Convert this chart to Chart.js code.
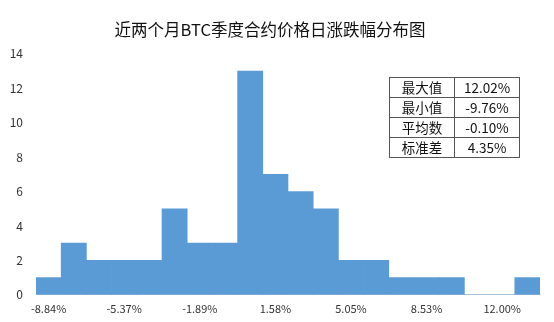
<!DOCTYPE html>
<html>
<head>
<meta charset="utf-8">
<script src="https://cdn.jsdelivr.net/npm/chart.js@4/dist/chart.umd.min.js"></script>
<style>
  body { margin: 0; background: #fff; }
  #wrap { position: relative; width: 554px; height: 322px; }
  #stats {
    position: absolute; left: 389px; top: 77px;
    border-collapse: collapse;
    font-family: "Noto Sans CJK SC", sans-serif; font-size: 13.5px; color: #111;
  }
  #stats td {
    border: 1px solid #555; height: 19px; padding: 0; text-align: center; line-height: 19px;
  }
  #stats td.k { width: 64px; }
  #stats td.v { width: 64px; }
</style>
</head>
<body>
<div id="wrap">
  <canvas id="chart" width="554" height="322"></canvas>
  <table id="stats"></table>
</div>
<script>
// Bin centres (daily change, %)
var bins = ["-8.84%","-7.68%","-6.53%","-5.37%","-4.21%","-3.05%","-1.89%","-0.74%","0.42%","1.58%",
            "2.74%","3.89%","5.05%","6.21%","7.37%","8.53%","9.68%","10.84%","12.00%","13.16%"];
// Day counts per bin
var counts = [1,3,2,2,2,5,3,3,13,7,6,5,2,2,1,1,1,0,0,1];
// Summary table
var statNames = ["最大值","最小值","平均数","标准差"];
var statValues = ["12.02%","-9.76%","-0.10%","4.35%"];

// Build summary table
var table = document.getElementById("stats");
for (var i = 0; i < statNames.length; i++) {
  var row = table.insertRow();
  var a = row.insertCell(); a.className = "k"; a.textContent = statNames[i];
  var b = row.insertCell(); b.className = "v"; b.textContent = statValues[i];
}

var font = "'Noto Sans CJK SC', sans-serif";

new Chart(document.getElementById("chart"), {
  type: "bar",
  data: {
    labels: bins,
    datasets: [{
      data: counts,
      backgroundColor: "#5b9bd5",
      borderWidth: 0,
      categoryPercentage: 1,
      barPercentage: 1
    }]
  },
  options: {
    responsive: false,
    animation: false,
    layout: { padding: { top: 1, right: 14, bottom: 0, left: 0 } },
    plugins: {
      legend: { display: false },
      tooltip: { enabled: false },
      title: {
        display: true,
        text: "近两个月BTC季度合约价格日涨跌幅分布图",
        color: "#111",
        font: { family: font, size: 16.5, weight: "normal" },
        padding: { top: 19, bottom: 14 }
      }
    },
    scales: {
      x: {
        grid: { display: false, drawTicks: false },
        border: { display: true, color: "#d9d9d9" },
        ticks: {
          autoSkip: false,
          maxRotation: 0,
          color: "#333",
          font: { family: font, size: 11 },
          padding: 7,
          callback: function (v, i) { return i % 3 == 0 ? bins[i] : ""; }
        }
      },
      y: {
        min: 0,
        max: 14,
        grid: { display: false },
        border: { display: false },
        ticks: { stepSize: 2, color: "#333", font: { family: font, size: 12 }, padding: 5 },
        afterFit: function (scale) { scale.width = 36; }
      }
    }
  }
});
</script>
</body>
</html>
